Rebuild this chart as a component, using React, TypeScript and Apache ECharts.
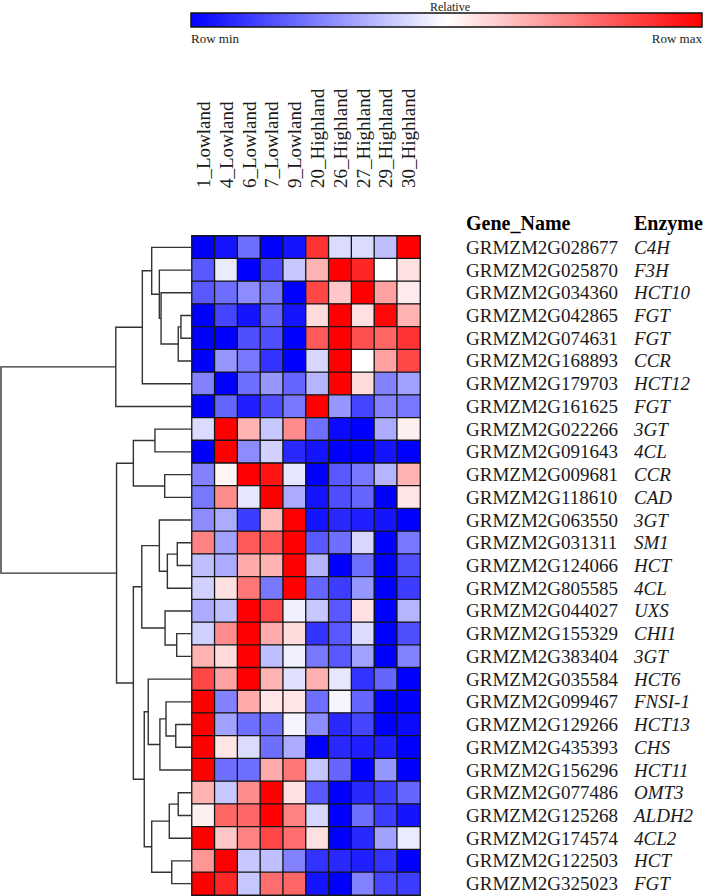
import React, { useEffect, useRef } from "react";
import * as echarts from "echarts";

const samples = [
  "1_Lowland", "4_Lowland", "6_Lowland", "7_Lowland", "9_Lowland",
  "20_Highland", "26_Highland", "27_Highland", "29_Highland", "30_Highland",
];

const genes = [
  "GRMZM2G028677", "GRMZM2G025870", "GRMZM2G034360", "GRMZM2G042865", "GRMZM2G074631",
  "GRMZM2G168893", "GRMZM2G179703", "GRMZM2G161625", "GRMZM2G022266", "GRMZM2G091643",
  "GRMZM2G009681", "GRMZM2G118610", "GRMZM2G063550", "GRMZM2G031311", "GRMZM2G124066",
  "GRMZM2G805585", "GRMZM2G044027", "GRMZM2G155329", "GRMZM2G383404", "GRMZM2G035584",
  "GRMZM2G099467", "GRMZM2G129266", "GRMZM2G435393", "GRMZM2G156296", "GRMZM2G077486",
  "GRMZM2G125268", "GRMZM2G174574", "GRMZM2G122503", "GRMZM2G325023",
];

const enzymes = [
  "C4H", "F3H", "HCT10", "FGT", "FGT", "CCR", "HCT12", "FGT", "3GT", "4CL",
  "CCR", "CAD", "3GT", "SM1", "HCT", "4CL", "UXS", "CHI1", "3GT", "HCT6",
  "FNSI-1", "HCT13", "CHS", "HCT11", "OMT3", "ALDH2", "4CL2", "HCT", "FGT",
];

// relative expression, -1 = row min (blue), +1 = row max (red)
const expression = [
  [-1, -0.92, -0.57, -1, -0.92, 0.8, -0.14, -0.14, -0.25, 1],
  [-0.65, -0.08, -1, -0.7, -0.22, 0.3, 1, 0.85, 0, 0.12],
  [-0.65, -0.57, -0.45, -0.53, -1, 0.72, 0.22, 1, 0.37, 0.08],
  [-1, -0.73, -0.92, -0.6, -0.92, 0.14, 1, 0.12, 0.97, 0.3],
  [-1, -1, -0.69, -0.69, -1, 0.65, 1, 0.69, 0.6, 0.8],
  [-1, -0.41, -0.53, -0.8, -1, -0.16, 1, 0, 0.37, 0.72],
  [-0.49, -1, -0.57, -0.41, -0.6, -0.29, 1, 0.14, -0.49, -0.37],
  [-1, -0.6, -0.88, -0.69, -0.53, 1, -0.41, -0.73, -0.49, -0.53],
  [-0.14, 1, 0.3, -0.22, 0.45, -0.57, -0.96, -1, -0.33, 0.06],
  [-1, 1, -0.45, -0.18, -0.84, -0.92, -1, -1, -0.92, -1],
  [-0.49, 0.04, 1, 0.92, -0.1, -1, -0.65, -0.53, -0.29, 0.3],
  [-0.53, 0.45, -0.1, 1, -0.33, -0.92, -0.69, -0.6, -1, 0.1],
  [-0.45, -0.33, -0.76, 0.27, 1, -0.92, -0.84, -0.88, -0.92, -1],
  [0.49, -0.37, 0.65, 0.65, 1, -0.65, -0.57, -0.16, -1, -0.53],
  [-0.25, -0.33, 0.33, 0.3, 1, -0.29, -1, -0.57, -1, -0.69],
  [-0.18, 0.12, 0.53, -0.53, 1, -0.6, -0.76, -0.41, -1, -0.76],
  [-0.33, -0.25, 1, 0.72, -0.06, -0.22, -0.65, 0.12, -1, -0.29],
  [-0.18, 0.45, 1, 0.33, 0.14, -0.8, -0.65, -0.14, -1, -0.69],
  [0.3, 0.14, 1, -0.25, -0.06, -0.53, -0.65, -0.37, -1, -0.49],
  [0.72, 0.37, 1, 0.3, -0.12, 0.31, -0.1, -0.8, -0.6, -1],
  [1, -0.49, 0.33, 0.1, 0.1, -0.57, -0.04, -0.6, -1, -1],
  [1, -0.37, -0.57, -0.57, -0.04, -0.45, -0.84, -0.73, -1, -0.96],
  [1, 0.1, -0.14, -0.57, -0.33, -1, -0.84, -0.88, -0.88, -1],
  [1, -0.57, -0.57, 0.33, 0.53, -0.22, -0.6, -1, -0.41, -1],
  [0.3, -0.22, 0.45, 1, 0.12, -0.65, -1, -0.84, -0.76, -0.6],
  [0.06, 0.6, 0.6, 1, 0.49, -0.16, -1, -0.57, -0.76, -0.92],
  [1, 0.22, 0.49, 0.72, 0.57, 0.12, -1, -0.84, -0.37, -0.08],
  [0.41, 1, -0.22, -0.25, -0.49, -0.8, -0.84, -0.88, -0.8, -1],
  [1, 0.85, -0.22, 0.57, 0.6, -0.92, -1, -0.49, -0.73, -0.76],
];

// hierarchical clustering of rows: [childA, childB, distance]
// ids 0..28 are rows, 29+ are earlier merges (in order)
const linkage: [number, number, number][] = [
  [3, 4, 0.058],
  [29, 5, 0.072],
  [2, 30, 0.162],
  [1, 31, 0.171],
  [0, 32, 0.211],
  [33, 6, 0.26],
  [34, 7, 0.399],
  [8, 9, 0.194],
  [10, 11, 0.143],
  [36, 37, 0.307],
  [13, 14, 0.077],
  [39, 15, 0.129],
  [12, 40, 0.171],
  [17, 18, 0.08],
  [16, 42, 0.141],
  [41, 43, 0.263],
  [21, 22, 0.085],
  [20, 45, 0.136],
  [46, 23, 0.168],
  [19, 47, 0.229],
  [24, 25, 0.072],
  [49, 26, 0.119],
  [27, 28, 0.106],
  [50, 51, 0.211],
  [48, 52, 0.25],
  [44, 53, 0.307],
  [38, 54, 0.395],
  [35, 55, 1.0],
];

const colorStops = ["#0000ff", "#ffffff", "#ff0000"];
const FONT = "'Liberation Serif', 'Times New Roman', serif";
const TEXT = "#1a1a1a";

export default function App() {
  const ref = useRef<HTMLDivElement>(null);

  useEffect(() => {
    if (!ref.current) return;
    const chart = echarts.init(ref.current, null, { renderer: "svg" });

    const heatData: number[][] = [];
    expression.forEach((row, r) => row.forEach((v, c) => heatData.push([c, r, v])));

    // dendrogram segments
    const n = genes.length;
    const pos: number[] = genes.map((_, i) => i);
    const hgt: number[] = genes.map(() => 0);
    const dendroData: number[][] = [];
    linkage.forEach(([a, b, d], k) => {
      dendroData.push([d, pos[a], hgt[a], pos[b], hgt[b]]);
      pos[n + k] = (pos[a] + pos[b]) / 2;
      hgt[n + k] = d;
    });

    const option: any = {
      animation: false,
      backgroundColor: "#ffffff",
      textStyle: { fontFamily: FONT },
      grid: [
        { left: 192, top: 236, width: 228, height: 659 },
        { left: 1, top: 236, width: 191, height: 659 },
      ],
      xAxis: [
        {
          type: "category",
          gridIndex: 0,
          data: samples,
          position: "top",
          axisLine: { show: false },
          axisTick: { show: false },
          splitLine: { show: false },
          axisLabel: {
            rotate: -90,
            interval: 0,
            margin: 48,
            fontSize: 19,
            fontFamily: FONT,
            color: TEXT,
          },
        },
        {
          type: "value",
          gridIndex: 1,
          min: 0,
          max: 1,
          inverse: true,
          show: false,
        },
      ],
      yAxis: [
        {
          type: "category",
          gridIndex: 0,
          data: genes,
          inverse: true,
          position: "right",
          axisLine: { show: false },
          axisTick: { show: false },
          splitLine: { show: false },
          axisLabel: {
            interval: 0,
            margin: 46,
            fontSize: 19,
            fontFamily: FONT,
            color: TEXT,
            align: "left",
          },
        },
        {
          type: "category",
          gridIndex: 0,
          data: enzymes,
          inverse: true,
          position: "right",
          offset: 168,
          axisLine: { show: false },
          axisTick: { show: false },
          splitLine: { show: false },
          axisLabel: {
            interval: 0,
            margin: 46,
            fontSize: 19,
            fontStyle: "italic",
            fontFamily: FONT,
            color: TEXT,
            align: "left",
          },
        },
        {
          type: "value",
          gridIndex: 1,
          min: -0.5,
          max: n - 0.5,
          inverse: true,
          show: false,
        },
      ],
      visualMap: {
        type: "continuous",
        show: false,
        min: -1,
        max: 1,
        dimension: 2,
        seriesIndex: 0,
        inRange: { color: colorStops },
      },
      series: [
        {
          type: "heatmap",
          xAxisIndex: 0,
          yAxisIndex: 0,
          data: heatData,
          itemStyle: { borderColor: "#161616", borderWidth: 1.3 },
          emphasis: { disabled: true },
        },
        {
          type: "custom",
          xAxisIndex: 1,
          yAxisIndex: 2,
          data: dendroData,
          encode: { x: [0, 2, 4], y: [1, 3] },
          silent: true,
          renderItem: (params: any, api: any) => {
            const h = api.value(0);
            const ya = api.value(1);
            const ha = api.value(2);
            const yb = api.value(3);
            const hb = api.value(4);
            const pts = [
              api.coord([ha, ya]),
              api.coord([h, ya]),
              api.coord([h, yb]),
              api.coord([hb, yb]),
            ];
            return {
              type: "polyline",
              shape: { points: pts },
              style: { stroke: "#333333", lineWidth: 1.4, fill: null },
            };
          },
        },
      ],
      graphic: [
        {
          type: "rect",
          shape: { x: 191, y: 13, width: 511, height: 14 },
          style: {
            fill: new echarts.graphic.LinearGradient(0, 0, 1, 0, [
              { offset: 0, color: colorStops[0] },
              { offset: 0.5, color: colorStops[1] },
              { offset: 1, color: colorStops[2] },
            ]),
            stroke: "#111111",
            lineWidth: 1.5,
          },
        },
        {
          type: "text",
          x: 450,
          y: 6.5,
          style: {
            text: "Relative",
            font: `12px ${FONT}`,
            fill: TEXT,
            textAlign: "center",
            textVerticalAlign: "middle",
          },
        },
        {
          type: "text",
          x: 191,
          y: 38,
          style: {
            text: "Row min",
            font: `13px ${FONT}`,
            fill: TEXT,
            textAlign: "left",
            textVerticalAlign: "middle",
          },
        },
        {
          type: "text",
          x: 702,
          y: 38,
          style: {
            text: "Row max",
            font: `13px ${FONT}`,
            fill: TEXT,
            textAlign: "right",
            textVerticalAlign: "middle",
          },
        },
        {
          type: "text",
          x: 466,
          y: 223,
          style: {
            text: "Gene_Name",
            font: `bold 20px ${FONT}`,
            fill: "#000000",
            textAlign: "left",
            textVerticalAlign: "middle",
          },
        },
        {
          type: "text",
          x: 634,
          y: 223,
          style: {
            text: "Enzyme",
            font: `bold 20px ${FONT}`,
            fill: "#000000",
            textAlign: "left",
            textVerticalAlign: "middle",
          },
        },
      ],
    };

    chart.setOption(option);
    return () => chart.dispose();
  }, []);

  return (
    <div
      ref={ref}
      style={{ position: "absolute", left: 0, top: 0, width: 709, height: 896 }}
    />
  );
}
